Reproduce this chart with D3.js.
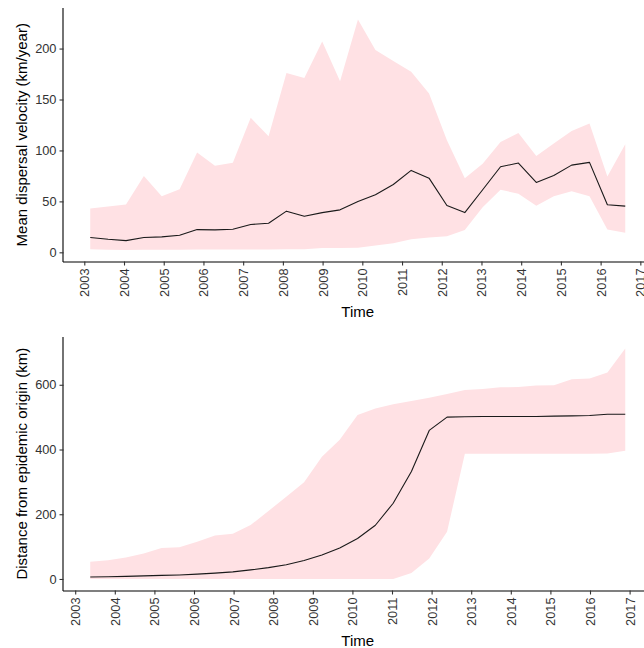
<!DOCTYPE html>
<html>
<head>
<meta charset="utf-8">
<script src="https://cdn.jsdelivr.net/npm/d3@7"></script>
<style>
  html, body { margin: 0; padding: 0; background: #fff; }
  svg { display: block; font-family: "Liberation Sans", Arial, Helvetica, sans-serif; }
</style>
</head>
<body>
<svg id="chart" width="644" height="648"></svg>
<script>
// ---- Data: top panel (mean dispersal velocity, km/year)
const velTime = [2003.15, 2003.60, 2004.05, 2004.50, 2004.95, 2005.40, 2005.84, 2006.29, 2006.74, 2007.19,
                 2007.64, 2008.09, 2008.54, 2008.99, 2009.44, 2009.89, 2010.33, 2010.78, 2011.23, 2011.68,
                 2012.13, 2012.58, 2013.03, 2013.48, 2013.93, 2014.38, 2014.82, 2015.27, 2015.72, 2016.17, 2016.62];
const velMean  = [14.5, 12.8, 11.5, 14.5, 15.2, 16.8, 22.3, 22.0, 22.6, 27.3, 28.5, 40.4, 35.4, 39.0, 41.7, 49.9,
                  56.5, 66.6, 80.4, 72.8, 46.0, 39.0, 61.4, 84.0, 87.6, 68.6, 75.5, 85.6, 88.3, 46.7, 45.3];
const velLower = [3.0, 2.5, 2.3, 2.6, 2.5, 2.5, 2.8, 2.8, 2.8, 2.7, 2.7, 2.9, 3.0, 4.3, 4.3, 4.4,
                  6.6, 8.9, 12.8, 14.5, 15.8, 22.0, 44.3, 61.4, 57.5, 45.7, 55.1, 60.0, 55.1, 22.3, 19.1];
const velUpper = [43, 45, 47, 75, 55, 62, 98, 85, 88, 132, 114, 176, 171, 207, 168, 228.5,
                  198.5, 187.7, 177.2, 155.9, 110, 72.8, 87, 108.3, 117.1, 94.5, 106.7, 119.1, 126.4, 74.5, 106];

// ---- Data: bottom panel (distance from epidemic origin, km)
const distTime = [2003.38, 2003.83, 2004.28, 2004.73, 2005.18, 2005.63, 2006.08, 2006.53, 2006.98, 2007.43,
                  2007.88, 2008.33, 2008.78, 2009.23, 2009.68, 2010.13, 2010.58, 2011.03, 2011.49, 2011.94,
                  2012.39, 2012.84, 2013.29, 2013.74, 2014.19, 2014.64, 2015.09, 2015.54, 2015.99, 2016.44, 2016.89];
const distMean  = [6, 7, 8, 9.5, 11, 12.5, 15, 18, 22, 28, 35, 44, 57, 74, 96, 125,
                   166, 234, 332, 459, 500, 501, 502, 502, 502, 502, 503, 504, 505, 509, 509];
const distLower = [0, 0, 0, 0, 0, 0, 0, 0, 0, 0, 0, 0, 0, 0, 0, 0,
                   0, 0, 18.6, 63, 146, 387, 387, 387, 387, 387, 387, 387, 387, 388, 396];
const distUpper = [53, 58, 66, 78.6, 96, 98, 115, 134.5, 139.6, 166.5, 210, 254, 299, 378, 430, 506.6,
                   527, 539.6, 550, 560, 571.6, 584, 587, 592, 593, 597.5, 598.5, 617, 619, 638, 712];

// ---- Tick labels
const yearTicks = [2003, 2004, 2005, 2006, 2007, 2008, 2009, 2010, 2011, 2012, 2013, 2014, 2015, 2016, 2017];
const velTicks  = [0, 50, 100, 150, 200];
const distTicks = [0, 200, 400, 600];

const xTitle = "Time";
const velTitle = "Mean dispersal velocity (km/year)";
const distTitle = "Distance from epidemic origin (km)";

const bandColor = "#ffe1e4";
const lineColor = "#1a1a1a";
const tickTextColor = "#333333";

const svg = d3.select("#chart");

function expand(lo, hi) { const d = (hi - lo) * 0.05; return [lo - d, hi + d]; }

function panel(cfg) {
  const { time, mean, lower, upper, yTicks, yTitle, left, right, top, bottom } = cfg;
  const x = d3.scaleLinear().domain(expand(d3.min(time), d3.max(time))).range([left, right]);
  const y = d3.scaleLinear().domain(expand(d3.min(lower), d3.max(upper))).range([bottom, top]);
  const rows = time.map((t, i) => ({ t, m: mean[i], lo: lower[i], hi: upper[i] }));

  const g = svg.append("g");
  g.append("path").datum(rows)
    .attr("fill", bandColor)
    .attr("d", d3.area().x(d => x(d.t)).y0(d => y(d.lo)).y1(d => y(d.hi)));
  g.append("path").datum(rows)
    .attr("fill", "none").attr("stroke", lineColor).attr("stroke-width", 1.1)
    .attr("stroke-linejoin", "round")
    .attr("d", d3.line().x(d => x(d.t)).y(d => y(d.m)));

  // x axis
  const xa = g.append("g").attr("transform", `translate(0,${bottom})`)
    .call(d3.axisBottom(x).tickValues(yearTicks).tickFormat(d3.format("d")).tickSizeOuter(0).tickSize(4));
  xa.select(".domain").attr("stroke", "#000").attr("stroke-width", 1.1).attr("d", `M${left - 0.5},0.5H${right}`);
  xa.selectAll(".tick line").attr("stroke", "#333").attr("stroke-width", 1.1);
  xa.selectAll(".tick text")
    .attr("fill", tickTextColor).attr("font-size", 12.8)
    .attr("text-anchor", "end")
    .attr("transform", "rotate(-90)")
    .attr("x", -7).attr("y", 0).attr("dy", "0.35em");

  // y axis
  const ya = g.append("g").attr("transform", `translate(${left},0)`)
    .call(d3.axisLeft(y).tickValues(yTicks).tickFormat(d3.format("d")).tickSizeOuter(0).tickSize(4));
  ya.select(".domain").attr("stroke", "#000").attr("stroke-width", 1.1).attr("d", `M-0.5,${top}V${bottom + 0.5}`);
  ya.selectAll(".tick line").attr("stroke", "#333").attr("stroke-width", 1.1);
  ya.selectAll(".tick text").attr("fill", tickTextColor).attr("font-size", 12.8).attr("x", -7);

  // titles
  g.append("text")
    .attr("x", (left + right) / 2).attr("y", bottom + 55)
    .attr("text-anchor", "middle").attr("font-size", 15).attr("fill", "#000")
    .text(xTitle);
  g.append("text")
    .attr("transform", `translate(22,${(top + bottom) / 2}) rotate(-90)`)
    .attr("text-anchor", "middle").attr("dy", "0.35em").attr("font-size", 15).attr("fill", "#000")
    .text(yTitle);
}

panel({ time: velTime, mean: velMean, lower: velLower, upper: velUpper,
        yTicks: velTicks, yTitle: velTitle, left: 63.5, right: 652, top: 8, bottom: 261.5 });
panel({ time: distTime, mean: distMean, lower: distLower, upper: distUpper,
        yTicks: distTicks, yTitle: distTitle, left: 63.5, right: 652, top: 337, bottom: 590.5 });
</script>
</body>
</html>
